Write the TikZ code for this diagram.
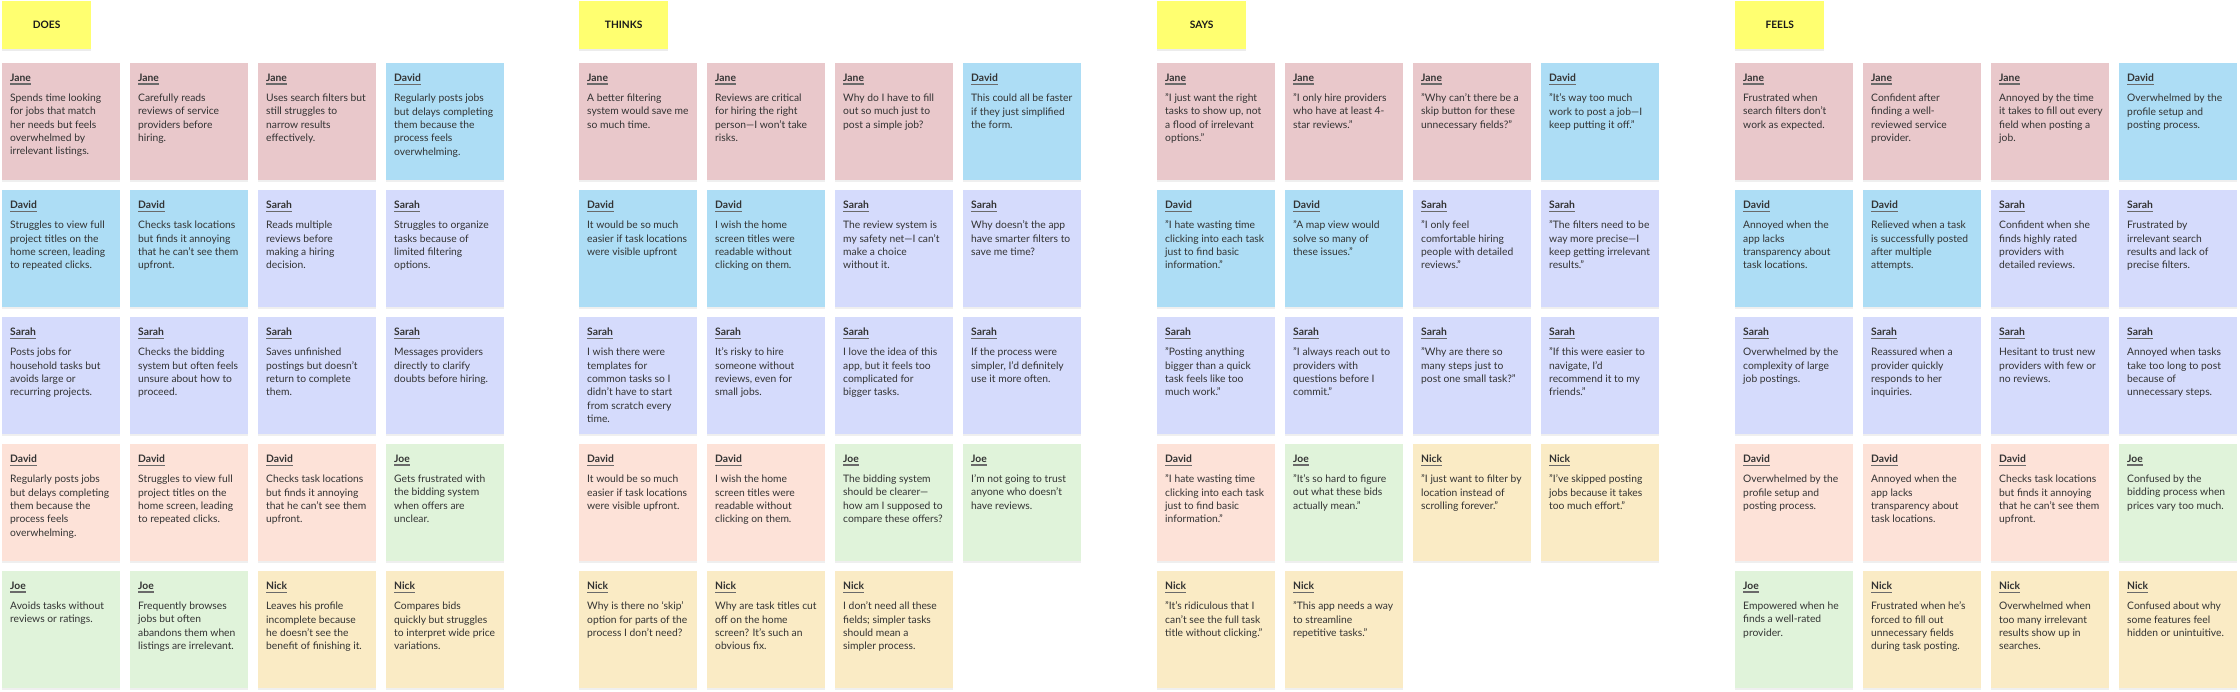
\documentclass[tikz,border=0pt]{standalone}
\usepackage{fontspec}
\setmainfont{Lato}
\usetikzlibrary{shadows}
\definecolor{headyellow}{HTML}{FFFF70}
\definecolor{janepink}{HTML}{E9C8CB}
\definecolor{davidblue}{HTML}{ADDDF5}
\definecolor{sarahlav}{HTML}{D5DBFC}
\definecolor{davidpeach}{HTML}{FDE2D8}
\definecolor{joegreen}{HTML}{E0F3DA}
\definecolor{nickyellow}{HTML}{FAEBC5}
\definecolor{bodytext}{HTML}{333333}
\definecolor{nameline}{HTML}{6A6A6A}
\newcommand{\who}[1]{\setbox0\hbox{\bfseries #1}\leavevmode\rlap{\color{nameline}\rule[-3pt]{\wd0}{1.2pt}}\box0}
\newcommand{\notetext}[2]{\makebox[102pt][l]{\parbox[t][95pt][t]{118pt}{\raggedright\who{#1}\par\vspace{6.7pt}#2}}}
\tikzset{
  head/.style={anchor=north west, fill=headyellow, minimum width=89pt, minimum height=48pt,
    inner sep=0pt, text=black!90, font=\bfseries\fontsize{10.2}{12}\selectfont,
    drop shadow={shadow xshift=0pt, shadow yshift=-1.5pt, opacity=0.15}},
  note/.style={anchor=north west, inner xsep=8pt, inner ysep=11pt, minimum width=118pt,
    minimum height=117pt, text=bodytext, font=\fontsize{10.3}{13.3}\selectfont,
    drop shadow={shadow xshift=0pt, shadow yshift=-1.5pt, opacity=0.12}},
  jane/.style={note, fill=janepink},
  davida/.style={note, fill=davidblue},
  sarah/.style={note, fill=sarahlav},
  davidb/.style={note, fill=davidpeach},
  joe/.style={note, fill=joegreen},
  nick/.style={note, fill=nickyellow}
}
\begin{document}
\begin{tikzpicture}[x=1pt,y=-1pt]
  \def\ga{2}%does
  \def\gb{579}%thinks
  \def\gc{1157}%says
  \def\gd{1735}%feels
  \fill[white] (0,0) rectangle (2240,692);
  \useasboundingbox (0,0) rectangle (2240,692);
  \foreach \gx/\lab/\nm in {\ga/DOES/does,\gb/THINKS/thinks,\gc/SAYS/says,\gd/FEELS/feels}
    \node[head] (\nm) at (\gx,1) {\lab};
  % does
  \node[jane] (d11) at (\ga,63) {\notetext{Jane}{Spends time looking\\for jobs that match\\her needs but feels\\overwhelmed by\\irrelevant listings.}};
  \node[jane] (d12) at (\ga+128,63) {\notetext{Jane}{Carefully reads\\reviews of service\\providers before\\hiring.}};
  \node[jane] (d13) at (\ga+256,63) {\notetext{Jane}{Uses search filters but\\still struggles to\\narrow results\\effectively.}};
  \node[davida] (d14) at (\ga+384,63) {\notetext{David}{Regularly posts jobs\\but delays completing\\them because the\\process feels\\overwhelming.}};
  \node[davida] (d21) at (\ga,190) {\notetext{David}{Struggles to view full\\project titles on the\\home screen, leading\\to repeated clicks.}};
  \node[davida] (d22) at (\ga+128,190) {\notetext{David}{Checks task locations\\but finds it annoying\\that he can't see them\\upfront.}};
  \node[sarah] (d23) at (\ga+256,190) {\notetext{Sarah}{Reads multiple\\reviews before\\making a hiring\\decision.}};
  \node[sarah] (d24) at (\ga+384,190) {\notetext{Sarah}{Struggles to organize\\tasks because of\\limited filtering\\options.}};
  \node[sarah] (d31) at (\ga,317) {\notetext{Sarah}{Posts jobs for\\household tasks but\\avoids large or\\recurring projects.}};
  \node[sarah] (d32) at (\ga+128,317) {\notetext{Sarah}{Checks the bidding\\system but often feels\\unsure about how to\\proceed.}};
  \node[sarah] (d33) at (\ga+256,317) {\notetext{Sarah}{Saves unfinished\\postings but doesn't\\return to complete\\them.}};
  \node[sarah] (d34) at (\ga+384,317) {\notetext{Sarah}{Messages providers\\directly to clarify\\doubts before hiring.}};
  \node[davidb] (d41) at (\ga,444) {\notetext{David}{Regularly posts jobs\\but delays completing\\them because the\\process feels\\overwhelming.}};
  \node[davidb] (d42) at (\ga+128,444) {\notetext{David}{Struggles to view full\\project titles on the\\home screen, leading\\to repeated clicks.}};
  \node[davidb] (d43) at (\ga+256,444) {\notetext{David}{Checks task locations\\but finds it annoying\\that he can't see them\\upfront.}};
  \node[joe] (d44) at (\ga+384,444) {\notetext{Joe}{Gets frustrated with\\the bidding system\\when offers are\\unclear.}};
  \node[joe] (d51) at (\ga,571) {\notetext{Joe}{Avoids tasks without\\reviews or ratings.}};
  \node[joe] (d52) at (\ga+128,571) {\notetext{Joe}{Frequently browses\\jobs but often\\abandons them when\\listings are irrelevant.}};
  \node[nick] (d53) at (\ga+256,571) {\notetext{Nick}{Leaves his profile\\incomplete because\\he doesn't see the\\benefit of finishing it.}};
  \node[nick] (d54) at (\ga+384,571) {\notetext{Nick}{Compares bids\\quickly but struggles\\to interpret wide price\\variations.}};
  % thinks
  \node[jane] (t11) at (\gb,63) {\notetext{Jane}{A better filtering\\system would save me\\so much time.}};
  \node[jane] (t12) at (\gb+128,63) {\notetext{Jane}{Reviews are critical\\for hiring the right\\person---I won't take\\risks.}};
  \node[jane] (t13) at (\gb+256,63) {\notetext{Jane}{Why do I have to fill\\out so much just to\\post a simple job?}};
  \node[davida] (t14) at (\gb+384,63) {\notetext{David}{This could all be faster\\if they just simplified\\the form.}};
  \node[davida] (t21) at (\gb,190) {\notetext{David}{It would be so much\\easier if task locations\\were visible upfront}};
  \node[davida] (t22) at (\gb+128,190) {\notetext{David}{I wish the home\\screen titles were\\readable without\\clicking on them.}};
  \node[sarah] (t23) at (\gb+256,190) {\notetext{Sarah}{The review system is\\my safety net---I can't\\make a choice\\without it.}};
  \node[sarah] (t24) at (\gb+384,190) {\notetext{Sarah}{Why doesn't the app\\have smarter filters to\\save me time?}};
  \node[sarah] (t31) at (\gb,317) {\notetext{Sarah}{I wish there were\\templates for\\common tasks so I\\didn't have to start\\from scratch every\\time.}};
  \node[sarah] (t32) at (\gb+128,317) {\notetext{Sarah}{It's risky to hire\\someone without\\reviews, even for\\small jobs.}};
  \node[sarah] (t33) at (\gb+256,317) {\notetext{Sarah}{I love the idea of this\\app, but it feels too\\complicated for\\bigger tasks.}};
  \node[sarah] (t34) at (\gb+384,317) {\notetext{Sarah}{If the process were\\simpler, I'd definitely\\use it more often.}};
  \node[davidb] (t41) at (\gb,444) {\notetext{David}{It would be so much\\easier if task locations\\were visible upfront.}};
  \node[davidb] (t42) at (\gb+128,444) {\notetext{David}{I wish the home\\screen titles were\\readable without\\clicking on them.}};
  \node[joe] (t43) at (\gb+256,444) {\notetext{Joe}{The bidding system\\should be clearer---\\how am I supposed to\\compare these offers?}};
  \node[joe] (t44) at (\gb+384,444) {\notetext{Joe}{I'm not going to trust\\anyone who doesn't\\have reviews.}};
  \node[nick] (t51) at (\gb,571) {\notetext{Nick}{Why is there no `skip'\\option for parts of the\\process I don't need?}};
  \node[nick] (t52) at (\gb+128,571) {\notetext{Nick}{Why are task titles cut\\off on the home\\screen? It's such an\\obvious fix.}};
  \node[nick] (t53) at (\gb+256,571) {\notetext{Nick}{I don't need all these\\fields; simpler tasks\\should mean a\\simpler process.}};
  % says
  \node[jane] (s11) at (\gc,63) {\notetext{Jane}{"I just want the right\\tasks to show up, not\\a flood of irrelevant\\options."}};
  \node[jane] (s12) at (\gc+128,63) {\notetext{Jane}{"I only hire providers\\who have at least 4-\\star reviews."}};
  \node[jane] (s13) at (\gc+256,63) {\notetext{Jane}{"Why can't there be a\\skip button for these\\unnecessary fields?"}};
  \node[davida] (s14) at (\gc+384,63) {\notetext{David}{"It's way too much\\work to post a job---I\\keep putting it off."}};
  \node[davida] (s21) at (\gc,190) {\notetext{David}{"I hate wasting time\\clicking into each task\\just to find basic\\information."}};
  \node[davida] (s22) at (\gc+128,190) {\notetext{David}{"A map view would\\solve so many of\\these issues."}};
  \node[sarah] (s23) at (\gc+256,190) {\notetext{Sarah}{"I only feel\\comfortable hiring\\people with detailed\\reviews."}};
  \node[sarah] (s24) at (\gc+384,190) {\notetext{Sarah}{"The filters need to be\\way more precise---I\\keep getting irrelevant\\results."}};
  \node[sarah] (s31) at (\gc,317) {\notetext{Sarah}{"Posting anything\\bigger than a quick\\task feels like too\\much work."}};
  \node[sarah] (s32) at (\gc+128,317) {\notetext{Sarah}{"I always reach out to\\providers with\\questions before I\\commit."}};
  \node[sarah] (s33) at (\gc+256,317) {\notetext{Sarah}{"Why are there so\\many steps just to\\post one small task?"}};
  \node[sarah] (s34) at (\gc+384,317) {\notetext{Sarah}{"If this were easier to\\navigate, I'd\\recommend it to my\\friends."}};
  \node[davidb] (s41) at (\gc,444) {\notetext{David}{"I hate wasting time\\clicking into each task\\just to find basic\\information."}};
  \node[joe] (s42) at (\gc+128,444) {\notetext{Joe}{"It's so hard to figure\\out what these bids\\actually mean."}};
  \node[nick] (s43) at (\gc+256,444) {\notetext{Nick}{"I just want to filter by\\location instead of\\scrolling forever."}};
  \node[nick] (s44) at (\gc+384,444) {\notetext{Nick}{"I've skipped posting\\jobs because it takes\\too much effort."}};
  \node[nick] (s51) at (\gc,571) {\notetext{Nick}{"It's ridiculous that I\\can't see the full task\\title without clicking."}};
  \node[nick] (s52) at (\gc+128,571) {\notetext{Nick}{"This app needs a way\\to streamline\\repetitive tasks."}};
  % feels
  \node[jane] (f11) at (\gd,63) {\notetext{Jane}{Frustrated when\\search filters don't\\work as expected.}};
  \node[jane] (f12) at (\gd+128,63) {\notetext{Jane}{Confident after\\finding a well-\\reviewed service\\provider.}};
  \node[jane] (f13) at (\gd+256,63) {\notetext{Jane}{Annoyed by the time\\it takes to fill out every\\field when posting a\\job.}};
  \node[davida] (f14) at (\gd+384,63) {\notetext{David}{Overwhelmed by the\\profile setup and\\posting process.}};
  \node[davida] (f21) at (\gd,190) {\notetext{David}{Annoyed when the\\app lacks\\transparency about\\task locations.}};
  \node[davida] (f22) at (\gd+128,190) {\notetext{David}{Relieved when a task\\is successfully posted\\after multiple\\attempts.}};
  \node[sarah] (f23) at (\gd+256,190) {\notetext{Sarah}{Confident when she\\finds highly rated\\providers with\\detailed reviews.}};
  \node[sarah] (f24) at (\gd+384,190) {\notetext{Sarah}{Frustrated by\\irrelevant search\\results and lack of\\precise filters.}};
  \node[sarah] (f31) at (\gd,317) {\notetext{Sarah}{Overwhelmed by the\\complexity of large\\job postings.}};
  \node[sarah] (f32) at (\gd+128,317) {\notetext{Sarah}{Reassured when a\\provider quickly\\responds to her\\inquiries.}};
  \node[sarah] (f33) at (\gd+256,317) {\notetext{Sarah}{Hesitant to trust new\\providers with few or\\no reviews.}};
  \node[sarah] (f34) at (\gd+384,317) {\notetext{Sarah}{Annoyed when tasks\\take too long to post\\because of\\unnecessary steps.}};
  \node[davidb] (f41) at (\gd,444) {\notetext{David}{Overwhelmed by the\\profile setup and\\posting process.}};
  \node[davidb] (f42) at (\gd+128,444) {\notetext{David}{Annoyed when the\\app lacks\\transparency about\\task locations.}};
  \node[davidb] (f43) at (\gd+256,444) {\notetext{David}{Checks task locations\\but finds it annoying\\that he can't see them\\upfront.}};
  \node[joe] (f44) at (\gd+384,444) {\notetext{Joe}{Confused by the\\bidding process when\\prices vary too much.}};
  \node[joe] (f51) at (\gd,571) {\notetext{Joe}{Empowered when he\\finds a well-rated\\provider.}};
  \node[nick] (f52) at (\gd+128,571) {\notetext{Nick}{Frustrated when he's\\forced to fill out\\unnecessary fields\\during task posting.}};
  \node[nick] (f53) at (\gd+256,571) {\notetext{Nick}{Overwhelmed when\\too many irrelevant\\results show up in\\searches.}};
  \node[nick] (f54) at (\gd+384,571) {\notetext{Nick}{Confused about why\\some features feel\\hidden or unintuitive.}};
\end{tikzpicture}
\end{document}
